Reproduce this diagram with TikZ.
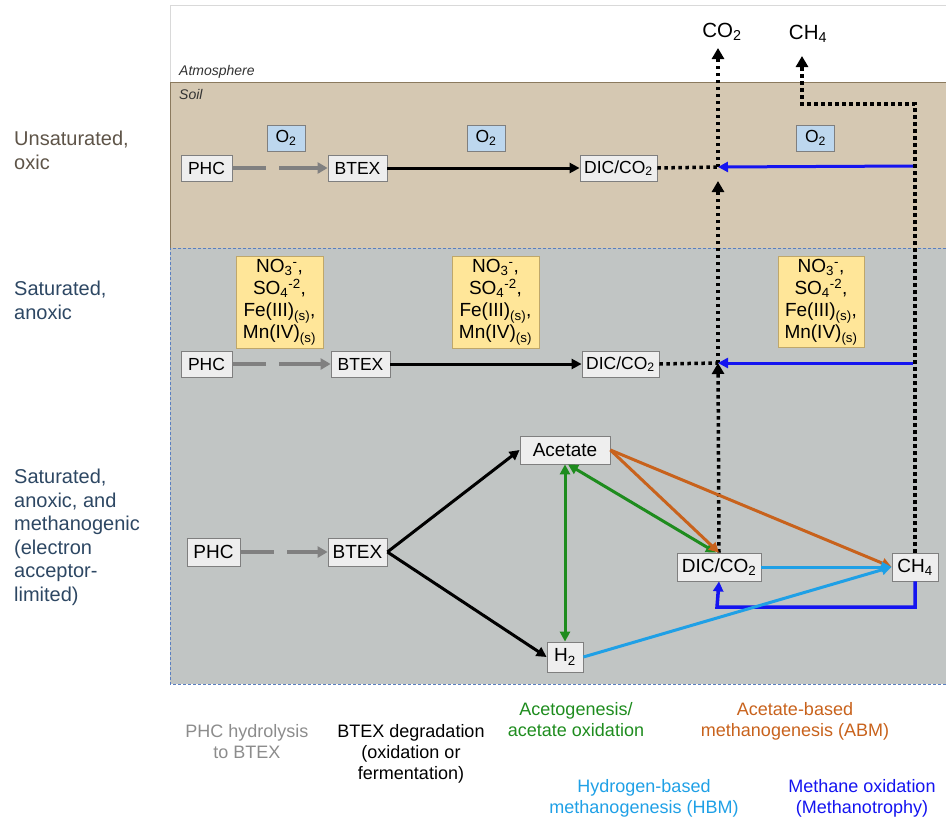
\documentclass[tikz,border=0pt]{standalone}
\usepackage{fontspec}
\setmainfont{Liberation Sans}
\usetikzlibrary{arrows.meta}
\definecolor{soil}{HTML}{D5C8B2}
\definecolor{soilline}{HTML}{8B7A5E}
\definecolor{satgray}{HTML}{C1C5C4}
\definecolor{satline}{HTML}{5A7FC0}
\definecolor{boxfill}{HTML}{EEEEEE}
\definecolor{boxline}{HTML}{7F7F7F}
\definecolor{oxfill}{HTML}{BDD7EE}
\definecolor{yel}{HTML}{FFE699}
\definecolor{yelline}{HTML}{BFA76A}
\definecolor{orng}{HTML}{C8621C}
\definecolor{grn}{HTML}{1E8C1E}
\definecolor{ltblue}{HTML}{1FA0E6}
\definecolor{dkblue}{HTML}{1414F0}
\definecolor{unsat}{HTML}{5E5448}
\definecolor{satlbl}{HTML}{2D4763}
\definecolor{phcgray}{HTML}{808080}
\definecolor{phctext}{HTML}{8C8C8C}
\begin{document}
\begin{tikzpicture}[x=1pt,y=-1pt,
  cbox/.style={draw=boxline,fill=boxfill,line width=0.8pt,inner sep=0pt,minimum height=26pt,font=\fontsize{17.5}{19}\selectfont},
  cboxb/.style={cbox,minimum height=28pt,font=\fontsize{19}{21}\selectfont},
  obox/.style={draw=boxline,fill=oxfill,line width=0.8pt,inner sep=0pt,minimum width=38pt,minimum height=26pt,font=\fontsize{17.5}{19}\selectfont},
  ybox/.style={draw=yelline,fill=yel,line width=0.6pt,inner sep=0pt,minimum width=87pt,minimum height=92pt,align=center,font=\fontsize{19}{22}\selectfont},
  arr/.style={-{Triangle[length=10pt,width=10pt]}},
  phcarrow/.style={draw=phcgray,line width=3.5pt,dash pattern=on 34pt off 13pt on 200pt,-{Triangle[length=10pt,width=11pt]}},
  blk/.style={draw=black,line width=3pt,arr},
  dotln/.style={draw=black,line width=3.5pt,dash pattern=on 3.5pt off 3.5pt},
  dotarr/.style={dotln,-{Triangle[length=11pt,width=12pt]}},
  colarr/.style={line width=3pt,arr},
  sidelbl/.style={anchor=north west,align=left,inner sep=0pt,font=\fontsize{20}{23.5}\selectfont},
  botlbl/.style={anchor=north,align=center,inner sep=0pt,font=\fontsize{18}{21}\selectfont},
  zonelbl/.style={anchor=base west,inner sep=0pt,font=\fontsize{14}{16}\selectfont\itshape,text=black!80}
]
\useasboundingbox (0,0) rectangle (946,822);
% zones
\fill[white] (170,5) rectangle (946,82);
\draw[black!15,line width=1pt] (946,5) -- (170,5) -- (170,82);
\fill[soil] (170,82) rectangle (946,248);
\fill[satgray] (170,248) rectangle (946,684);
\draw[soilline,line width=1pt] (946,82) -- (170,82) -- (170,248);
\draw[satline,line width=0.8pt,dash pattern=on 3pt off 2pt] (946,248) -- (170,248) -- (170,684) -- (946,684);
\node[zonelbl] (atm) at (179,75) {Atmosphere};
\node[zonelbl] (soillbl) at (179,99) {Soil};
% side labels
\node[sidelbl,text=unsat] (l1) at (14,131) {Unsaturated,\\oxic};
\node[sidelbl,text=satlbl] (l2) at (14,281) {Saturated,\\anoxic};
\node[sidelbl,text=satlbl] (l3) at (14,469) {Saturated,\\anoxic, and\\methanogenic\\(electron\\acceptor-\\limited)};
% row 1
\node[cbox,minimum width=51pt] (phc1) at (206.5,168) {PHC};
\node[cbox,minimum width=59pt] (btex1) at (357.5,168) {BTEX};
\node[cbox,minimum width=77pt] (dic1) at (618.5,168) {DIC/CO\textsubscript{2}};
\node[obox] (o2a) at (286,138) {O\textsubscript{2}};
\node[obox] (o2b) at (486,138) {O\textsubscript{2}};
\node[obox] (o2c) at (815.5,138) {O\textsubscript{2}};
% row 2
\node[cbox,minimum width=51pt] (phc2) at (206.5,364) {PHC};
\node[cbox,minimum width=59pt] (btex2) at (360.5,364) {BTEX};
\node[cbox,minimum width=77pt] (dic2) at (620.5,364) {DIC/CO\textsubscript{2}};
\node[ybox] (ya) at (279.5,302) {NO\textsubscript{3}\textsuperscript{-},\\SO\textsubscript{4}\textsuperscript{-2},\\Fe(III)\textsubscript{(s)},\\Mn(IV)\textsubscript{(s)}};
\node[ybox] (yb) at (495.5,302) {NO\textsubscript{3}\textsuperscript{-},\\SO\textsubscript{4}\textsuperscript{-2},\\Fe(III)\textsubscript{(s)},\\Mn(IV)\textsubscript{(s)}};
\node[ybox,minimum width=86pt,minimum height=91pt] (yc) at (821,302) {NO\textsubscript{3}\textsuperscript{-},\\SO\textsubscript{4}\textsuperscript{-2},\\Fe(III)\textsubscript{(s)},\\Mn(IV)\textsubscript{(s)}};
% row 3
\node[cboxb,minimum width=53pt] (phc3) at (213.5,552) {PHC};
\node[cboxb,minimum width=59pt] (btex3) at (357.5,552) {BTEX};
\node[cboxb,minimum width=90pt] (acet) at (565,450) {Acetate};
\node[cboxb,minimum width=36pt,minimum height=30pt] (h2) at (565,657) {H\textsubscript{2}};
\node[cboxb,minimum width=84pt] (dic3) at (719,567) {DIC/CO\textsubscript{2}};
\node[cboxb,minimum width=46pt] (ch4) at (915,567) {CH\textsubscript{4}};
% atmosphere labels
\node[font=\fontsize{20.5}{22}\selectfont] (co2out) at (722,32) {CO\textsubscript{2}};
\node[font=\fontsize{20.5}{22}\selectfont] (ch4out) at (808,34) {CH\textsubscript{4}};
% coordinates
\coordinate (j1) at (718,167);
\coordinate (j2) at (718,363);
\coordinate (co2tip) at (718,48);
\coordinate (j1b) at (718,181);
\coordinate (ch4a) at (915,104);
\coordinate (ch4b) at (802,104);
\coordinate (ch4tip) at (802,56);
\coordinate (m1) at (913,166);
\coordinate (m2) at (913,363);
\coordinate (bl1) at (915,607);
\coordinate (bl2) at (717,607);
% gray hydrolysis arrows
\draw[phcarrow] (phc1.east) -- (btex1.west);
\draw[phcarrow] (phc2.east) -- (btex2.west);
\draw[phcarrow] (phc3.east) -- (btex3.west);
% black BTEX degradation
\draw[blk] (btex1.east) -- (dic1.west);
\draw[blk] (btex2.east) -- (dic2.west);
\draw[blk] (btex3.east) -- (acet.west);
\draw[blk] (btex3.east) -- (h2.west);
% dotted transport
\draw[dotln] (dic1.east) -- (j1);
\draw[dotln] (dic2.east) -- (j2);
\draw[dotarr] (j1) -- (co2tip);
\draw[dotarr] (j2) -- (j1b);
\draw[dotarr] (dic3.north) -- (j2);
\draw[dotarr] (ch4.north) -- (ch4a) -- (ch4b) -- (ch4tip);
% methane oxidation
\draw[colarr,dkblue] (m1) -- (j1);
\draw[colarr,dkblue] (m2) -- (j2);
\draw[colarr,dkblue,line width=3.5pt] (ch4.south) -- (bl1) -- (bl2) -- (dic3.south);
% acetogenesis
\draw[colarr,grn,{Triangle[length=10pt,width=10pt]}-{Triangle[length=10pt,width=10pt]}] (acet.south) -- (h2.north);
\draw[colarr,grn,{Triangle[length=10pt,width=10pt]}-{Triangle[length=10pt,width=10pt]}] ([xshift=3pt]acet.south) -- ([xshift=-3pt]dic3.north);
% ABM
\draw[colarr,orng] (acet.east) -- (dic3.north);
\draw[colarr,orng] (acet.east) -- (ch4.west);
% HBM
\draw[colarr,ltblue] (dic3.east) -- (ch4.west);
\draw[colarr,ltblue] (h2.east) -- (ch4.west);
% bottom legend
\node[botlbl,text=phctext] (lg1) at (247,724) {PHC hydrolysis\\to BTEX};
\node[botlbl,text=black] (lg2) at (411,724) {BTEX degradation\\(oxidation or\\fermentation)};
\node[botlbl,text=grn] (lg3) at (576,702) {Acetogenesis/\\acetate oxidation};
\node[botlbl,text=orng] (lg4) at (795,702) {Acetate-based\\methanogenesis (ABM)};
\node[botlbl,text=ltblue] (lg5) at (644,779) {Hydrogen-based\\methanogenesis (HBM)};
\node[botlbl,text=dkblue] (lg6) at (862,779) {Methane oxidation\\(Methanotrophy)};
\end{tikzpicture}
\end{document}
